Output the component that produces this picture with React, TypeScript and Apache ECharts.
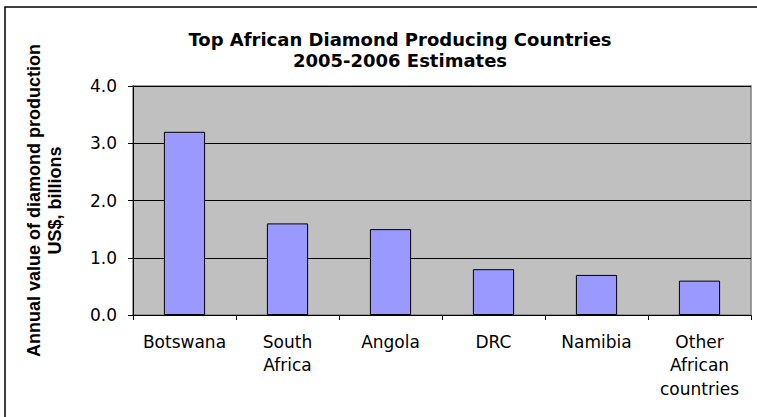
import React, { useEffect, useRef } from "react";
import * as echarts from "echarts";

const categories = ["Botswana", "South\nAfrica", "Angola", "DRC", "Namibia", "Other\nAfrican\ncountries"];
const values = [3.2, 1.6, 1.5, 0.8, 0.7, 0.6];
const titleLines = ["Top African Diamond Producing Countries", "2005-2006 Estimates"];
const yAxisName = ["Annual value of diamond production", "US$, billions"];

export default function App() {
  const ref = useRef<HTMLDivElement>(null);
  useEffect(() => {
    const chart = echarts.init(ref.current!, null, { renderer: "svg" });
    const wide = "'DejaVu Sans', sans-serif";
    const narrow = "'Liberation Sans', Arial, sans-serif";
    chart.setOption({
      animation: false,
      backgroundColor: "#ffffff",
      textStyle: { fontFamily: wide },
      title: {
        text: titleLines.join("\n"),
        left: 395,
        top: 24,
        textAlign: "center",
        textStyle: { fontSize: 18, fontWeight: "bold", color: "#000", lineHeight: 21, fontFamily: wide },
      },
      graphic: [
        {
          type: "rect",
          shape: { x: 5, y: 7, width: 800, height: 500 },
          style: { fill: "none", stroke: "#000", lineWidth: 1.5 },
          silent: true,
        },
      ],
      grid: {
        left: 133,
        right: 6,
        top: 86,
        bottom: 102,
        show: true,
        backgroundColor: "#C0C0C0",
        borderColor: "#808080",
        borderWidth: 1.5,
      },
      xAxis: {
        type: "category",
        data: categories,
        axisLine: { lineStyle: { color: "#000", width: 1 } },
        axisTick: { show: true, alignWithLabel: false, length: 5, lineStyle: { color: "#000" } },
        axisLabel: { fontSize: 17, color: "#000", lineHeight: 23.5, margin: 15, interval: 0, fontFamily: wide },
      },
      yAxis: {
        type: "value",
        min: 0,
        max: 4,
        interval: 1,
        name: yAxisName.join("\n"),
        nameLocation: "middle",
        nameRotate: 90,
        nameGap: 68,
        nameTextStyle: { fontSize: 18, fontWeight: "bold", color: "#000", lineHeight: 21, align: "center", fontFamily: narrow },
        axisLine: { show: true, lineStyle: { color: "#000", width: 1 } },
        axisTick: { show: true, length: 5, inside: false, lineStyle: { color: "#000" } },
        axisLabel: { fontSize: 17, color: "#000", margin: 16, formatter: (v: number) => v.toFixed(1), fontFamily: wide },
        splitLine: { show: true, lineStyle: { color: "#000", width: 1 } },
      },
      series: [
        {
          type: "bar",
          data: values,
          barWidth: "40%",
          itemStyle: { color: "#9999FF", borderColor: "#000", borderWidth: 1 },
        },
      ],
    });
    return () => chart.dispose();
  }, []);
  return <div ref={ref} style={{ position: "fixed", left: 0, top: 0, width: 757, height: 417 }} />;
}
